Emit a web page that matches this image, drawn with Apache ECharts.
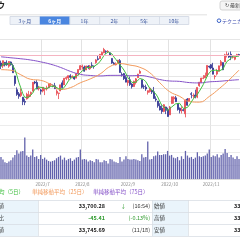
<!DOCTYPE html>
<html>
<head>
<meta charset="utf-8">
<script src="https://cdn.jsdelivr.net/npm/echarts@6/dist/echarts.min.js"></script>
<style>
  html, body { margin: 0; padding: 0; background: #fff; }
  #main { width: 240px; height: 240px; }
</style>
</head>
<body>
<div id="main"></div>
<script>
// trading days (2022)
const dates = [
  '6/1','6/2','6/3','6/6','6/7','6/8','6/9','6/10','6/13','6/14','6/15','6/16','6/17','6/21','6/22','6/23','6/24','6/27','6/28','6/29','6/30',
  '7/1','7/5','7/6','7/7','7/8','7/11','7/12','7/13','7/14','7/15','7/18','7/19','7/20','7/21','7/22','7/25','7/26','7/27','7/28','7/29',
  '8/1','8/2','8/3','8/4','8/5','8/8','8/9','8/10','8/11','8/12','8/15','8/16','8/17','8/18','8/19','8/22','8/23','8/24','8/25','8/26','8/29','8/30','8/31',
  '9/1','9/2','9/6','9/7','9/8','9/9','9/12','9/13','9/14','9/15','9/16','9/19','9/20','9/21','9/22','9/23','9/26','9/27','9/28','9/29','9/30',
  '10/3','10/4','10/5','10/6','10/7','10/10','10/11','10/12','10/13','10/14','10/17','10/18','10/19','10/20','10/21','10/24','10/25','10/26','10/27','10/28','10/31',
  '11/1','11/2','11/3','11/4','11/7','11/8','11/9','11/10','11/11','11/14','11/15','11/16','11/17','11/18','11/21'
];

// [open, close, low, high]
const ohlc = [
  [33060,32813,32563,33249],[32820,33248,32641,33255],[33110,32900,32780,33140],[33050,32916,32830,33272],[32800,33180,32670,33210],
  [33140,32910,32850,33180],[32850,32272,32270,33000],[32010,31393,31210,32020],[30900,30517,30400,31080],[30560,30365,30160,30710],
  [30420,30668,30300,30990],[30290,29927,29650,30300],[29950,29889,29650,30160],[30150,30530,30100,30650],[30310,30484,30200,30800],
  [30560,30677,30320,30750],[30770,31501,30770,31520],[31520,31439,31340,31610],[31480,30947,30940,31670],[30970,31029,30830,31210],
  [30870,30775,30500,30960],
  [30790,31097,30680,31100],[30950,30968,30460,30980],[30970,31037,30830,31220],[31070,31385,31010,31400],[31300,31338,31150,31440],
  [31250,31174,31100,31320],[31210,30982,30950,31450],[30600,30773,30430,30920],[30600,30630,30140,30650],[30800,31288,30780,31300],
  [31450,31073,31010,31650],[31280,31827,31280,31840],[31800,31875,31670,31970],[31840,32036,31640,32050],[32030,31899,31810,32150],
  [31920,31990,31820,32050],[31920,31762,31700,31980],[31830,32198,31830,32260],[32200,32530,32030,32550],[32510,32845,32500,32900],
  [32740,32798,32520,32930],[32730,32397,32360,32850],[32490,32813,32490,32840],[32800,32727,32560,32880],[32590,32803,32500,32900],
  [32880,32833,32660,33120],[32790,32775,32600,32860],[33090,33310,33000,33370],[33400,33337,33260,33650],[33420,33761,33380,33770],
  [33690,33913,33640,33980],[33880,34152,33850,34281],[34010,33981,33790,34080],[33950,33999,33860,34100],[33880,33707,33620,33920],
  [33430,33063,32990,33440],[33050,32910,32900,33150],[32910,32969,32860,33110],[33030,33292,33000,33300],[33250,32283,32280,33380],
  [32140,32099,31960,32300],[32200,31791,31680,32250],[31880,31510,31500,32000],
  [31460,31656,31220,31670],[31700,31318,31200,31960],[31350,31145,30990,31430],[31150,31581,31130,31630],[31480,31775,31320,31840],
  [31870,32152,31870,32180],[32230,32381,32200,32520],[31700,31105,31000,31710],[31150,31135,30950,31310],[31100,30962,30800,31300],
  [30680,30822,30500,30830],[30750,31020,30660,31030],[30850,30706,30550,30880],[30730,30184,30180,31120],[30150,30077,29930,30360],
  [29980,29590,29440,29990],[29570,29261,29220,29800],[29400,29135,28940,29640],[29140,29684,29070,29730],[29500,29226,28920,29520],
  [29260,28726,28715,29440],
  [28860,29491,28850,29580],[29780,30317,29780,30330],[30150,30274,29770,30370],[30240,29927,29900,30400],[29780,29297,29200,29800],
  [29390,29203,28980,29460],[29190,29239,28970,29550],[29280,29211,29150,29370],[28950,30039,28660,30120],[30140,29635,29600,30220],
  [29960,30186,29960,30220],[30570,30524,30200,30700],[30410,30424,30200,30600],[30470,30334,30200,30900],[30300,31083,30210,31090],
  [31220,31500,31130,31530],[31480,31837,31450,31860],[31820,31840,31750,32080],[31860,32034,31830,32280],[32000,32862,31990,32880],
  [32800,32733,32630,32840],
  [32920,32653,32560,32970],[32650,32148,32140,33070],[31960,32002,31730,32080],[32160,32403,32050,32580],[32400,32827,32380,32840],
  [32870,33161,32780,33300],[33090,32514,32480,33100],[33150,33716,33150,33800],[33690,33748,33510,33990],[33660,33537,33470,33900],
  [33760,33593,33290,33990],[33520,33554,33420,33700],[33360,33547,33280,33560],[33660,33746,33550,33800],[33740,33700,33610,33800]
];

// volume (million shares)
const volume = [
  330,290,250,240,260,280,320,360,430,380,410,420,620,350,330,350,440,330,340,300,360,
  300,320,290,270,260,270,280,310,330,350,290,320,280,300,310,270,290,320,330,440,
  290,300,290,260,280,270,250,300,290,250,250,280,270,230,300,290,260,250,240,330,260,290,340,
  300,290,290,300,290,280,270,370,320,330,560,290,300,340,350,410,360,360,370,370,420,
  350,360,320,310,330,280,340,300,420,350,320,330,300,320,400,340,330,340,350,380,440,
  330,350,340,370,320,360,380,450,390,330,360,320,300,340,300
];

// 5日移動平均
const ma5 = [
  32755,32980,33033,32973,33011,33031,32836,32534,32054,31491,31043,30574,30273,30276,30300,30301,30616,30926,31010,31119,31138,
  31057,30963,30981,31052,31165,31180,31183,31130,30979,30969,30949,31118,31339,31620,31742,31925,31912,31977,32076,32265,
  32427,32554,32677,32716,32708,32715,32790,32890,33012,33203,33419,33695,33829,33961,33950,33780,33532,33330,33188,32903,32711,32487,32195,
  31868,31675,31484,31442,31495,31594,31807,31799,31710,31547,31281,31009,30929,30739,30562,30315,29964,29649,29549,29379,29206,
  29252,29489,29607,29747,29861,29804,29588,29375,29398,29465,29662,29919,30162,30221,30510,30773,31036,31319,31659,32015,32261,
  32424,32486,32480,32388,32407,32508,32581,32924,33193,33335,33422,33630,33596,33595,33628
];

// 25日移動平均 (5営業日ごと)
const ma25 = [
  ['6/1',32519],['6/8',32470],['6/15',32104],['6/23',31739],['6/30',31654],['7/8',31336],['7/15',30923],
  ['7/22',31063],['7/29',31456],['8/5',31770],['8/12',32177],['8/19',32774],['8/26',33006],['9/2',32888],
  ['9/12',32708],['9/19',32269],['9/26',31471],['10/3',30741],['10/10',30367],['10/17',29938],['10/24',29891],
  ['10/31',30350],['11/7',30981],['11/14',31688],['11/21',32481]
];

// 75日移動平均 (5営業日ごと)
const ma75 = [
  ['6/1',33560],['6/8',33480],['6/15',33400],['6/23',33300],['6/30',33150],['7/8',32960],['7/15',32700],
  ['7/22',32380],['7/29',32140],['8/5',32050],['8/12',32011],['8/19',32056],['8/26',32058],['9/2',32027],
  ['9/12',32044],['9/19',31927],['9/26',31723],['10/3',31603],['10/10',31570],['10/17',31472],['10/24',31446],
  ['10/31',31532],['11/7',31576],['11/14',31648],['11/21',31709]
];

const currentPrice = 33700.28;
const periodTabs = ['3ヶ月', '6ヶ月', '1年', '2年', '5年', '10年'];
const selectedTab = 1;
const legendNames = ['単純移動平均（5日）', '単純移動平均（25日）', '単純移動平均（75日）'];
const tableLeft = [
  ['現在値', '33,700.28', '(16:54)'],
  ['前日比', '-45.41', '(-0.13%)'],
  ['前日終値', '33,745.69', '(11/18)']
];
const tableRight = [
  ['始値', '33,722.91'],
  ['高値', '33,833.23'],
  ['安値', '33,585.74']
];

const FONT = '"Noto Sans CJK JP", "Noto Sans", sans-serif';
const UP = '#e8474f', DOWN = '#2f3290';
const GREEN = '#3fbf3f', ORANGE = '#f29a5c', PURPLE = '#8552c8';

const monthStart = (i) => i > 0 && dates[i].split('/')[0] !== dates[i - 1].split('/')[0];

var myChart = echarts.init(document.getElementById('main'));

// header, tabs and quote table
var g = [];
g.push({ type: 'text', x: 5, y: 5, style: { text: 'NYダウ', font: 'bold 8px ' + FONT, fill: '#222', align: 'right', verticalAlign: 'middle' } });
g.push({ type: 'rect', shape: { x: 220, y: 1, width: 30, height: 9, r: 2 }, style: { fill: '#f5f5f5', stroke: '#c9c9c9', lineWidth: 0.8 } });
g.push({ type: 'text', x: 225, y: 5.5, style: { text: '↻ 最新', font: '5px ' + FONT, fill: '#444', verticalAlign: 'middle' } });
g.push({ type: 'rect', shape: { x: 0, y: 14.5, width: 207, height: 0.8 }, style: { fill: '#d6d6d6' } });

var tabX0 = 10, tabW = 29.8;
g.push({ type: 'rect', shape: { x: tabX0, y: 16.5, width: tabW * periodTabs.length, height: 8 }, style: { fill: '#eef2f8', stroke: '#cfd6e2', lineWidth: 0.8 } });
periodTabs.forEach(function (t, i) {
  var x = tabX0 + i * tabW;
  if (i > 0) g.push({ type: 'rect', shape: { x: x, y: 16.5, width: 0.7, height: 8 }, style: { fill: '#cfd6e2' } });
  if (i === selectedTab) g.push({ type: 'rect', shape: { x: x, y: 16.5, width: tabW, height: 8 }, style: { fill: '#4a86e0' } });
  g.push({ type: 'text', x: x + tabW / 2, y: 20.7, style: { text: t, font: (i === selectedTab ? 'bold ' : '') + '5px ' + FONT, fill: i === selectedTab ? '#fff' : '#34509a', align: 'center', verticalAlign: 'middle' } });
});
g.push({ type: 'circle', shape: { cx: 219, cy: 20.7, r: 1.8 }, style: { fill: 'none', stroke: '#3a62c8', lineWidth: 1 } });
g.push({ type: 'text', x: 222, y: 20.7, style: { text: 'テクニカル', font: '5px ' + FONT, fill: '#4050b0', verticalAlign: 'middle' } });

// legend
var legendColors = [GREEN, ORANGE, PURPLE];
var legendX = [24, 32, 93];
legendNames.forEach(function (n, i) {
  g.push({ type: 'text', x: legendX[i], y: 192, style: { text: n, font: '5.5px ' + FONT, fill: legendColors[i], align: i === 0 ? 'right' : 'left', verticalAlign: 'middle' } });
});

// table
var rowY = [200, 212, 224, 236];
g.push({ type: 'rect', shape: { x: 0, y: 200, width: 38, height: 36 }, style: { fill: '#eaf4fb' } });
g.push({ type: 'rect', shape: { x: 152, y: 200, width: 36, height: 36 }, style: { fill: '#eaf4fb' } });
rowY.forEach(function (y) {
  g.push({ type: 'rect', shape: { x: 0, y: y, width: 240, height: 0.7 }, style: { fill: '#d7dde3' } });
});
[38, 152, 188].forEach(function (x) {
  g.push({ type: 'rect', shape: { x: x, y: 200, width: 0.7, height: 36 }, style: { fill: '#d7dde3' } });
});
tableLeft.forEach(function (r, i) {
  var cy = rowY[i] + 6;
  var col = i === 1 ? '#2e9a2e' : '#222';
  g.push({ type: 'text', x: 4, y: cy, style: { text: r[0], font: '5.5px ' + FONT, fill: '#333', align: 'right', verticalAlign: 'middle' } });
  g.push({ type: 'text', x: 105, y: cy, style: { text: r[1], font: 'bold 5.5px ' + FONT, fill: col, align: 'right', verticalAlign: 'middle' } });
  g.push({ type: 'text', x: 150, y: cy, style: { text: r[2], font: '5.5px ' + FONT, fill: i === 1 ? '#2e9a2e' : '#333', align: 'right', verticalAlign: 'middle' } });
  if (i === 0) g.push({ type: 'text', x: 126, y: cy, style: { text: '↓', font: '5.5px ' + FONT, fill: '#2e9a2e', align: 'right', verticalAlign: 'middle' } });
});
tableRight.forEach(function (r, i) {
  var cy = rowY[i] + 6;
  g.push({ type: 'text', x: 154, y: cy, style: { text: r[0], font: '5.5px ' + FONT, fill: '#333', verticalAlign: 'middle' } });
  g.push({ type: 'text', x: 234, y: cy, style: { text: r[1], font: 'bold 5.5px ' + FONT, fill: '#222', verticalAlign: 'middle' } });
});

var gridLeft = -6.3, gridWidth = 251.9;

var option = {
  animation: false,
  backgroundColor: '#fff',
  textStyle: { fontFamily: FONT },
  graphic: g,
  grid: [
    { left: gridLeft, width: gridWidth, top: 39, height: 86.5 },
    { left: gridLeft, width: gridWidth, top: 125.5, height: 53.5 }
  ],
  xAxis: [
    {
      type: 'category', gridIndex: 0, data: dates, boundaryGap: true,
      axisLine: { show: false }, axisTick: { show: false }, axisLabel: { show: false },
      splitLine: { show: true, interval: function (i) { return monthStart(i); }, lineStyle: { color: '#e2e2e2', width: 1 } }
    },
    {
      type: 'category', gridIndex: 1, data: dates, boundaryGap: true,
      axisLine: { show: true, lineStyle: { color: '#dcdcdc' } }, axisTick: { show: false },
      axisLabel: {
        show: true, interval: function (i) { return monthStart(i); }, margin: 3,
        formatter: function (v) { return '2022/' + v.split('/')[0]; },
        fontSize: 4.5, color: '#8a8a8a', fontFamily: FONT
      },
      splitLine: { show: true, interval: function (i) { return monthStart(i); }, lineStyle: { color: '#e2e2e2', width: 1 } }
    }
  ],
  yAxis: [
    {
      type: 'value', gridIndex: 0, position: 'right', min: 28000, max: 35000, interval: 1000,
      axisLine: { show: false }, axisTick: { show: false }, axisLabel: { show: false },
      splitLine: { lineStyle: { color: '#e6e6e6', width: 1 } }
    },
    {
      type: 'value', gridIndex: 1, position: 'right', min: 0, max: 800, interval: 200,
      axisLine: { show: false }, axisTick: { show: false }, axisLabel: { show: false },
      splitLine: { lineStyle: { color: '#ececec', width: 1 } }
    }
  ],
  series: [
    {
      name: 'NYダウ', type: 'candlestick', xAxisIndex: 0, yAxisIndex: 0,
      data: ohlc, barWidth: 1.5,
      itemStyle: { color: UP, color0: DOWN, borderColor: UP, borderColor0: DOWN, borderWidth: 0.8 },
      markLine: {
        silent: true, symbol: ['none', 'none'], label: { show: false },
        lineStyle: { color: '#f5b4c1', type: 'solid', width: 1 },
        data: [{ yAxis: currentPrice }]
      }
    },
    {
      name: legendNames[2], type: 'line', xAxisIndex: 0, yAxisIndex: 0, data: ma75,
      smooth: true, showSymbol: false, lineStyle: { color: PURPLE, width: 1 }
    },
    {
      name: legendNames[1], type: 'line', xAxisIndex: 0, yAxisIndex: 0, data: ma25,
      smooth: true, showSymbol: false, lineStyle: { color: ORANGE, width: 1 }
    },
    {
      name: legendNames[0], type: 'line', xAxisIndex: 0, yAxisIndex: 0, data: ma5,
      showSymbol: false, lineStyle: { color: GREEN, width: 1 }
    },
    {
      name: '出来高', type: 'bar', xAxisIndex: 1, yAxisIndex: 1, data: volume,
      barWidth: 1.3, itemStyle: { color: '#6262ac' }
    }
  ]
};

if (option && typeof option === 'object') {
  myChart.setOption(option, true);
}
</script>
</body>
</html>
